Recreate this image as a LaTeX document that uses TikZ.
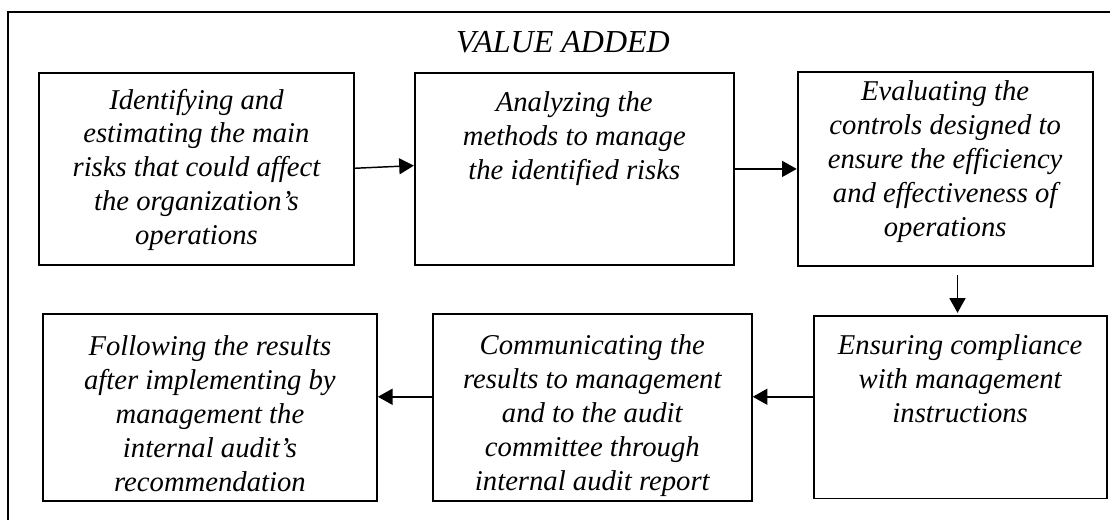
\documentclass[tikz,border=0pt]{standalone}
\usepackage{fontspec}
\setmainfont{Liberation Serif}
\usetikzlibrary{arrows.meta,positioning}

\newdimen\pxunit
\pxunit=0.75pt
% box contents: width, height, gap above the first line, lines
\newcommand{\boxtext}[4]{\parbox[c][#2\pxunit][t]{#1\pxunit}{\centering\vspace*{#3\pxunit}#4}}

\tikzset{
  stepbox/.style={draw, line width=1.4pt, inner sep=0pt,
    font=\fontsize{21.5}{25.4}\selectfont\itshape},
  flow/.style={-{Triangle[length=11pt,width=12pt]}, line width=1.1pt},
}

\begin{document}
\begin{tikzpicture}[x=0.75pt, y=-0.75pt]
    \useasboundingbox (0,0) rectangle (1110,520);
    % Outer frame, running off the right and bottom edges
    \begin{scope}
        \clip (0,0) rectangle (1110,520);
        \draw[line width=1.3pt] (8,540) |- (1130,12);
    \end{scope}

    \node[font=\fontsize{24}{28}\selectfont\itshape] (title) at (563,42) {VALUE ADDED};

    % Top row
    \node[stepbox, anchor=north west] (identify) at (38,72) {\boxtext{315}{192}{16}{Identifying and\\
        estimating the main\\ risks that could affect\\ the organization’s\\ operations}};
    \node[stepbox, right=44.25pt of identify] (analyze) {\boxtext{319}{192}{19}{Analyzing the\\
        methods to manage\\ the identified risks}};
    \node[stepbox, right=46.5pt of analyze] (evaluate) {\boxtext{295}{194}{9}{Evaluating the\\
        controls designed to\\ ensure the efficiency\\ and effectiveness of\\ operations}};

    % Bottom row
    \node[stepbox, anchor=north west] (follow) at (42,313) {\boxtext{334}{187}{22}{Following the results\\
        after implementing by\\ management the\\ internal audit’s\\ recommendation}};
    \node[stepbox, right=40.5pt of follow] (communicate) {\boxtext{319}{187}{21}{Communicating the\\
        results to management\\ and to the audit\\ committee through\\ internal audit report}};
    \node[stepbox, right=45pt of communicate] (ensure) {\boxtext{293}{182}{18}{Ensuring compliance\\
        with management\\ instructions}};

    % Connections
    \draw[flow] ([yshift=0.5pt]identify.east) -- ([yshift=2.5pt]analyze.west);
    \draw[flow] (analyze) -- (evaluate);
    \coordinate (down) at ([xshift=-2pt]ensure.north);
    \draw[flow, shorten <=6pt, shorten >=2pt] (evaluate.south -| down) -- (down);
    \coordinate (back) at ([yshift=8pt]ensure.west);
    \draw[flow] (back) -- (back -| communicate.east);
    \draw[flow] (back -| communicate.west) -- (back -| follow.east);
\end{tikzpicture}
\end{document}
